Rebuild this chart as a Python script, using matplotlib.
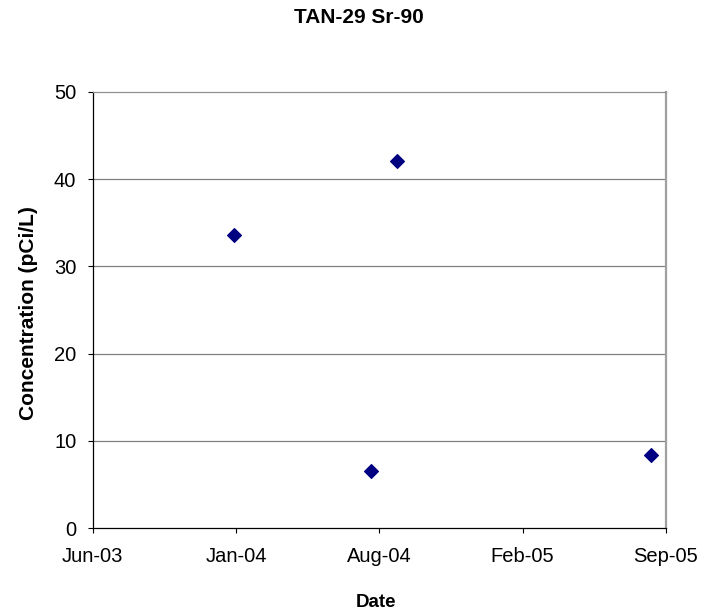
import matplotlib
matplotlib.use("Agg")
import matplotlib.pyplot as plt
import matplotlib.dates as mdates
import datetime as dt

plt.rcParams['font.family'] = ['Liberation Sans', 'DejaVu Sans']

# Sample dates and Sr-90 concentrations
sample_dates = ["2004-01-09", "2004-07-23", "2004-08-29", "2005-08-27"]
concentrations = [33.6, 6.5, 42.1, 8.4]

# Date axis: start, major unit (days) and tick labels
axis_start = "2003-06-21"
major_unit_days = 205
tick_labels = ["Jun-03", "Jan-04", "Aug-04", "Feb-05", "Sep-05"]
y_ticks = [0, 10, 20, 30, 40, 50]

x = [mdates.date2num(dt.date.fromisoformat(d)) for d in sample_dates]
x0 = mdates.date2num(dt.date.fromisoformat(axis_start))
x_ticks = [x0 + i * major_unit_days for i in range(len(tick_labels))]

W, H = 710, 616
fig = plt.figure(figsize=(W / 100, H / 100), dpi=100)
left, right, top, bottom = 92.7, 666, 92, 528
ax = fig.add_axes([left / W, 1 - bottom / H, (right - left) / W, (bottom - top) / H])

for yv in y_ticks[1:-1]:
    ax.axhline(yv, color="#808080", lw=0.9, zorder=1)

ax.plot(x, concentrations, linestyle="none", marker="D", markersize=7.2,
        markeredgewidth=0.8, color="#000080", markeredgecolor="#000080",
        zorder=3, clip_on=False)

ax.set_xlim(x_ticks[0], x_ticks[-1])
ax.set_ylim(0, 50)
ax.set_xticks(x_ticks)
ax.set_xticklabels(tick_labels)
ax.set_yticks(y_ticks)

ax.spines["left"].set_color("black")
ax.spines["bottom"].set_color("black")
ax.spines["top"].set_color("#909090")
ax.spines["right"].set_color("#a0a0a0")
for s in ax.spines.values():
    s.set_linewidth(0.9)
ax.spines["right"].set_linewidth(1.6)

ax.tick_params(axis="both", direction="out", length=3.8, width=0.8,
               labelsize=14.5, color="black")
ax.tick_params(axis="x", pad=10)
ax.tick_params(axis="y", pad=8)

fig.text(359 / W, 1 - 23 / H, "TAN-29 Sr-90", fontsize=15, fontweight="bold",
         ha="center", va="baseline")
fig.text(376 / W, 1 - 607 / H, "Date", fontsize=13.5, fontweight="bold",
         ha="center", va="baseline")
fig.text(29 / W, 1 - 313.5 / H, "Concentration (pCi/L)", fontsize=15,
         fontweight="bold", rotation=90, ha="center", va="center")

fig.savefig("out.png", dpi=100, facecolor="white")
